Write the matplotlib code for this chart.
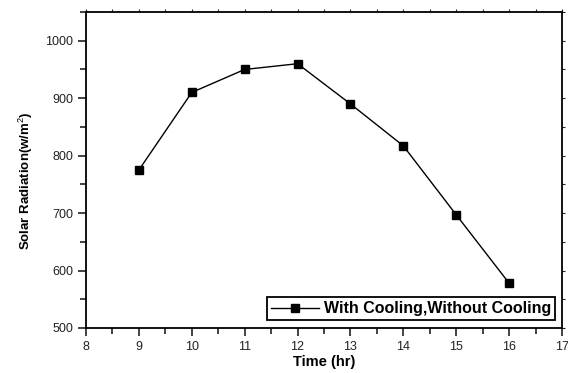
import matplotlib
matplotlib.use("Agg")
import matplotlib.pyplot as plt
from matplotlib.ticker import MultipleLocator

## values
time_hr = [9, 10, 11, 12, 13, 14, 15, 16]
radiation = [775, 910, 950, 960, 890, 817, 697, 578]

plt.rcParams['font.family'] = ['Liberation Sans', 'DejaVu Sans']
plt.rcParams['mathtext.fontset'] = 'custom'
plt.rcParams['mathtext.rm'] = 'Liberation Sans'

fig = plt.figure(figsize=(5.68, 3.73), dpi=100)
ax = fig.add_axes([86 / 568, 1 - 328 / 373, (562 - 86) / 568, (328 - 12) / 373])

ax.plot(time_hr, radiation, color='black', lw=1, marker='s', ms=5.5,
        label='With Cooling,Without Cooling')

ax.set_xlim(8, 17)
ax.set_ylim(500, 1050)
ax.xaxis.set_major_locator(MultipleLocator(1))
ax.xaxis.set_minor_locator(MultipleLocator(0.5))
ax.yaxis.set_major_locator(MultipleLocator(100))
ax.yaxis.set_minor_locator(MultipleLocator(50))
## left / bottom ticks outward, top / right only tiny marks
ax.tick_params(which='both', direction='out', labelsize=9, width=1.2,
               colors='#222222', pad=3, top=True, right=True)
ax.tick_params(which='major', length=6)
ax.tick_params(which='minor', length=4)
for spine in ax.spines.values():
    spine.set_linewidth(1.3)
for axis in (ax.xaxis, ax.yaxis):
    for tick in axis.get_major_ticks() + axis.get_minor_ticks():
        tick.tick2line.set_markersize(2)
        tick.tick2line.set_markeredgewidth(0.8)
        tick.tick2line.set_color('#777777')

ax.set_xlabel('Time (hr)', fontsize=10.5, fontweight='bold', labelpad=2)
ax.set_ylabel('Solar Radiation(w/m$^{\\mathrm{2}}$)', fontsize=9.5, fontweight='bold')
ax.yaxis.set_label_coords(-0.108, 0.465)

leg = ax.legend(loc='lower right', prop={'weight': 'bold', 'size': 11.5},
                fancybox=False, edgecolor='black', framealpha=1,
                borderpad=0.25, handlelength=3, handletextpad=0.3,
                borderaxespad=0, bbox_to_anchor=(0.985, 0.025))
leg.get_frame().set_linewidth(1.3)

fig.savefig('out.png', dpi=100)
